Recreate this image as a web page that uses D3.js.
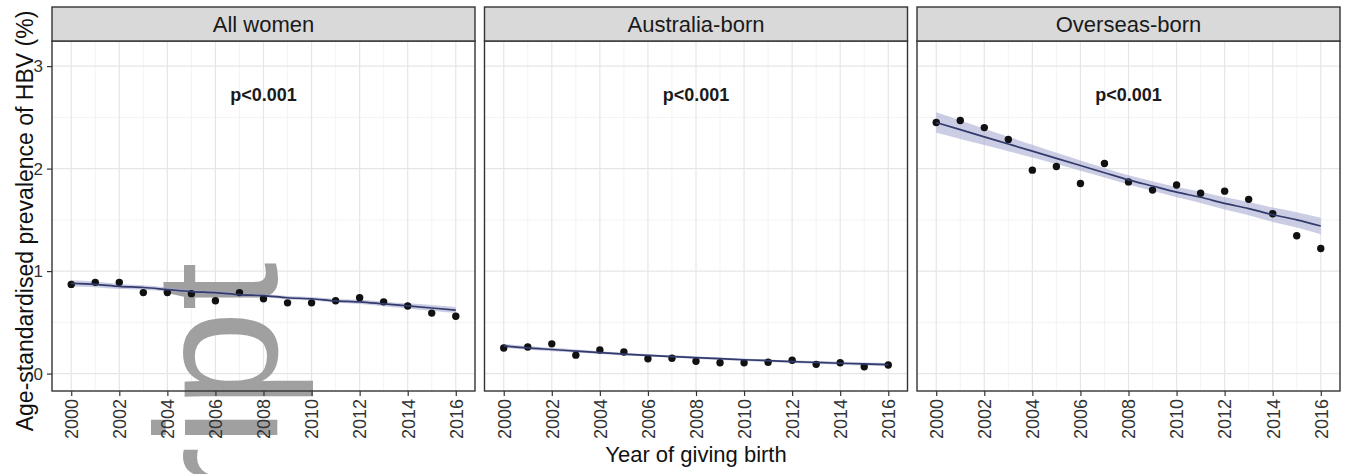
<!DOCTYPE html>
<html>
<head>
<meta charset="utf-8">
<script src="https://cdn.jsdelivr.net/npm/d3@7"></script>
<style>
  html, body { margin: 0; padding: 0; background: #fff; }
  svg { display: block; font-family: "Liberation Sans", Arial, sans-serif; }
</style>
</head>
<body>
<svg id="chart" width="1345" height="474"></svg>
<script>
// ---- data ----
const years = [2000,2001,2002,2003,2004,2005,2006,2007,2008,2009,2010,2011,2012,2013,2014,2015,2016];
const panels = ["All women", "Australia-born", "Overseas-born"];
const xTicks = [2000,2002,2004,2006,2008,2010,2012,2014,2016];
const yTicks = [0,1,2,3];
const pLabels = ["p<0.001", "p<0.001", "p<0.001"];

const allWomen      = [0.87,0.89,0.89,0.79,0.79,0.78,0.71,0.79,0.73,0.69,0.69,0.71,0.74,0.70,0.66,0.59,0.56];
const australiaBorn = [0.25,0.26,0.29,0.18,0.23,0.21,0.145,0.15,0.12,0.105,0.105,0.11,0.13,0.09,0.105,0.066,0.083];
const overseasBorn  = [2.45,2.47,2.40,2.285,1.985,2.02,1.855,2.05,1.87,1.79,1.84,1.76,1.78,1.70,1.56,1.345,1.22];

const fitAll      = [0.88,0.87,0.85,0.84,0.82,0.80,0.79,0.77,0.76,0.74,0.73,0.71,0.70,0.68,0.66,0.64,0.62];
const fitAus      = [0.27,0.25,0.235,0.22,0.205,0.19,0.178,0.166,0.155,0.145,0.135,0.126,0.117,0.109,0.101,0.094,0.087];
const fitOver     = [2.45,2.38,2.31,2.24,2.17,2.10,2.03,1.96,1.89,1.83,1.77,1.72,1.66,1.61,1.55,1.50,1.44];

const seAll  = [0.03,0.028,0.025,0.022,0.02,0.018,0.017,0.016,0.016,0.016,0.017,0.018,0.02,0.022,0.025,0.028,0.03];
const seAus  = [0.02,0.018,0.016,0.015,0.014,0.013,0.012,0.012,0.012,0.012,0.012,0.012,0.013,0.013,0.014,0.015,0.016];
const seOver = [0.10,0.09,0.08,0.07,0.062,0.055,0.05,0.046,0.045,0.046,0.05,0.055,0.06,0.065,0.07,0.075,0.08];

const seriesValues = [allWomen, australiaBorn, overseasBorn];
const fitValues = [fitAll, fitAus, fitOver];
const bandValues = [seAll, seAus, seOver];

// ---- layout ----
const svg = d3.select("#chart");
const panelLeft = 52, panelW = 423, panelGap = 9.5;
const stripTop = 7, panelTop = 41, panelBottom = 391;

const y = d3.scaleLinear().domain([-0.17, 3.245]).range([panelBottom, panelTop]);

panels.forEach((name, i) => {
  const x0 = panelLeft + i * (panelW + panelGap);
  const x = d3.scaleLinear().domain([1999.2, 2016.8]).range([x0, x0 + panelW]);
  const g = svg.append("g");

  g.append("rect").attr("x", x0).attr("y", panelTop).attr("width", panelW)
    .attr("height", panelBottom - panelTop).attr("fill", "#fff");

  // minor grid
  const minorY = [0.5, 1.5, 2.5];
  g.selectAll(".myg").data(minorY).join("line")
    .attr("x1", x0).attr("x2", x0 + panelW)
    .attr("y1", d => y(d)).attr("y2", d => y(d))
    .attr("stroke", "#f0f0f0").attr("stroke-width", 0.8);
  const minorX = d3.range(2001, 2017, 2);
  g.selectAll(".mxg").data(minorX).join("line")
    .attr("y1", panelTop).attr("y2", panelBottom)
    .attr("x1", d => x(d)).attr("x2", d => x(d))
    .attr("stroke", "#f0f0f0").attr("stroke-width", 0.8);
  // major grid
  g.selectAll(".Myg").data(yTicks).join("line")
    .attr("x1", x0).attr("x2", x0 + panelW)
    .attr("y1", d => y(d)).attr("y2", d => y(d))
    .attr("stroke", "#e6e6e6").attr("stroke-width", 1.2);
  g.selectAll(".Mxg").data(xTicks).join("line")
    .attr("y1", panelTop).attr("y2", panelBottom)
    .attr("x1", d => x(d)).attr("x2", d => x(d))
    .attr("stroke", "#e6e6e6").attr("stroke-width", 1.2);

  if (i === 0) {
    // grey watermark from the source page (partly off the bottom edge, as in the reference)
    svg.append("text")
      .attr("transform", "translate(277,262) rotate(-90)")
      .attr("text-anchor", "end")
      .attr("font-family", "Liberation Sans, Arial, sans-serif")
      .attr("font-size", 175)
      .attr("fill", "#a0a0a0")
      .text("ript");
  }

  const gd = svg.append("g");
  const fit = fitValues[i], band = bandValues[i];
  const area = d3.area()
    .x((d, k) => x(years[k]))
    .y0((d, k) => y(fit[k] - band[k]))
    .y1((d, k) => y(fit[k] + band[k]))
    .curve(d3.curveMonotoneX);
  gd.append("path").datum(fit).attr("d", area)
    .attr("fill", "#9ea4cc").attr("opacity", 0.55);
  gd.selectAll("circle").data(seriesValues[i]).join("circle")
    .attr("cx", (d, k) => x(years[k])).attr("cy", d => y(d))
    .attr("r", 3.7).attr("fill", "#111");
  const line = d3.line().x((d, k) => x(years[k])).y(d => y(d)).curve(d3.curveMonotoneX);
  gd.append("path").datum(fit).attr("d", line)
    .attr("fill", "none").attr("stroke", "#333a6c").attr("stroke-width", 1.7);

  gd.append("text").attr("x", x(2008)).attr("y", y(2.72))
    .attr("text-anchor", "middle").attr("dominant-baseline", "central")
    .attr("font-size", 18).attr("font-weight", "bold").attr("fill", "#1a1a1a")
    .text(pLabels[i]);

  gd.append("rect").attr("x", x0).attr("y", panelTop).attr("width", panelW)
    .attr("height", panelBottom - panelTop).attr("fill", "none")
    .attr("stroke", "#333").attr("stroke-width", 1.4);
  gd.append("rect").attr("x", x0).attr("y", stripTop).attr("width", panelW)
    .attr("height", panelTop - stripTop).attr("fill", "#d9d9d9")
    .attr("stroke", "#333").attr("stroke-width", 1.4);
  gd.append("text").attr("x", x0 + panelW / 2).attr("y", (stripTop + panelTop) / 2)
    .attr("text-anchor", "middle").attr("dominant-baseline", "central")
    .attr("font-size", 22).attr("fill", "#1a1a1a").text(name);

  const xAxis = d3.axisBottom(x).tickValues(xTicks).tickFormat(d3.format("d"))
    .tickSize(5).tickPadding(3);
  const ax = gd.append("g").attr("transform", `translate(0,${panelBottom})`).call(xAxis);
  ax.select(".domain").remove();
  ax.selectAll(".tick line").attr("stroke", "#333").attr("stroke-width", 1.2);
  ax.selectAll(".tick text")
    .attr("transform", "rotate(-90)")
    .attr("x", -8).attr("y", 0).attr("dy", "0.35em")
    .attr("text-anchor", "end")
    .attr("font-size", 18).attr("fill", "#333")
    .attr("font-family", "Liberation Sans, Arial, sans-serif");

  if (i === 0) {
    const yAxis = d3.axisLeft(y).tickValues(yTicks).tickFormat(d3.format("d"))
      .tickSize(5).tickPadding(4);
    const ay = gd.append("g").attr("transform", `translate(${x0},0)`).call(yAxis);
    ay.select(".domain").remove();
    ay.selectAll(".tick line").attr("stroke", "#333").attr("stroke-width", 1.2);
    ay.selectAll(".tick text").attr("font-size", 17).attr("fill", "#333")
      .attr("font-family", "Liberation Sans, Arial, sans-serif");
  }
});

svg.append("text")
  .attr("transform", "translate(33,221) rotate(-90)")
  .attr("text-anchor", "middle")
  .attr("font-size", 23).attr("fill", "#111")
  .text("Age-standardised prevalence of HBV (%)");
svg.append("text")
  .attr("x", 696).attr("y", 462)
  .attr("text-anchor", "middle")
  .attr("font-size", 22).attr("fill", "#111")
  .text("Year of giving birth");
</script>
</body>
</html>
